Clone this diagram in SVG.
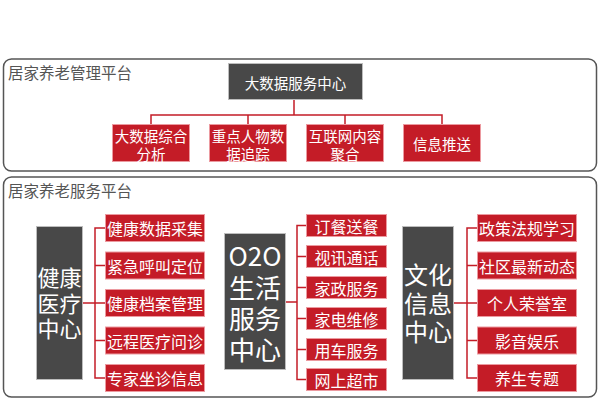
<svg xmlns="http://www.w3.org/2000/svg" width="600" height="400" viewBox="0 0 600 400">
<style>
text{font-family:"Noto Sans CJK SC","Noto Sans",sans-serif}
.frame{fill:#fff;stroke:#555;stroke-width:1.5}
.title{fill:#555;font-size:15.5px}
.dark{fill:#484848;stroke:#bdbdbd;stroke-width:1}
.red{fill:#c41c27;stroke:#ec9aa0;stroke-width:1}
.wt{fill:#fff;text-anchor:middle;dominant-baseline:central}
.s14{font-size:14.5px}
.s16{font-size:16px}
.conn{fill:none;stroke:#c41c27;stroke-width:1.5}
</style>
<rect width="600" height="400" fill="#fff"/>
<g id="platform-mgmt">
<rect class="frame" x="3.5" y="59" width="593" height="112" rx="8"/>
<text class="title" x="8" y="79">居家养老管理平台</text>
</g>
<g id="platform-service">
<rect class="frame" x="3.5" y="177" width="593" height="220" rx="8"/>
<text class="title" x="8" y="197">居家养老服务平台</text>
</g>
<g id="connectors">
<path class="conn" d="M294 100V115M151 124V115H442V124M248 115V124M345 115V124"/>
<path class="conn" d="M83 303H95M105 228H95V378H105M95 265.5H105M95 303H105M95 340.5H105"/>
<path class="conn" d="M286 302H297M306 225.5H297V379.5H306M297 256.5H306M297 287.5H306M297 318.5H306M297 349.5H306"/>
<path class="conn" d="M454 303H467M477 228H467V378H477M467 265.5H477M467 303H477M467 340.5H477"/>
</g>
<g id="bigdata-center">
<rect class="dark" x="228.5" y="63.5" width="134" height="36"/>
<text class="wt s14" x="295.5" y="82">大数据服务中心</text>
</g>
<g id="m1"><rect class="red" x="112.5" y="124.5" width="77" height="37"/><text class="wt s14" x="151"><tspan x="151" y="134.5">大数据综合</tspan><tspan x="151" y="152.5">分析</tspan></text></g>
<g id="m2"><rect class="red" x="209.5" y="124.5" width="77" height="37"/><text class="wt s14" x="248"><tspan x="248" y="134.5">重点人物数</tspan><tspan x="248" y="152.5">据追踪</tspan></text></g>
<g id="m3"><rect class="red" x="306.5" y="124.5" width="77" height="37"/><text class="wt s14" x="345"><tspan x="345" y="134.5">互联网内容</tspan><tspan x="345" y="152.5">聚合</tspan></text></g>
<g id="m4"><rect class="red" x="403.5" y="124.5" width="77" height="37"/><text class="wt s14" x="442" y="143">信息推送</text></g>

<g id="health-center">
<rect class="dark" x="36.5" y="226.5" width="46" height="153"/>
<text class="wt" font-size="22" x="59.5"><tspan x="59.5" y="276">健康</tspan><tspan x="59.5" y="301.5">医疗</tspan><tspan x="59.5" y="327">中心</tspan></text>
</g>
<g id="h1"><rect class="red" x="105.5" y="214.5" width="99" height="27"/><text class="wt s16" x="155" y="228">健康数据采集</text></g>
<g id="h2"><rect class="red" x="105.5" y="252" width="99" height="27"/><text class="wt s16" x="155" y="265.5">紧急呼叫定位</text></g>
<g id="h3"><rect class="red" x="105.5" y="289.5" width="99" height="27"/><text class="wt s16" x="155" y="303">健康档案管理</text></g>
<g id="h4"><rect class="red" x="105.5" y="327" width="99" height="27"/><text class="wt s16" x="155" y="340.5">远程医疗问诊</text></g>
<g id="h5"><rect class="red" x="105.5" y="364.5" width="99" height="27"/><text class="wt s16" x="155" y="378">专家坐诊信息</text></g>

<g id="o2o-center">
<rect class="dark" x="224.5" y="233.5" width="61" height="136"/>
<text class="wt" font-size="26" x="255"><tspan x="255" y="254">O2O</tspan><tspan x="255" y="286">生活</tspan><tspan x="255" y="317">服务</tspan><tspan x="255" y="348">中心</tspan></text>
</g>
<g id="o1"><rect class="red" x="306.5" y="214.5" width="80" height="22"/><text class="wt s16" x="346.5" y="225.5">订餐送餐</text></g>
<g id="o2"><rect class="red" x="306.5" y="245.5" width="80" height="22"/><text class="wt s16" x="346.5" y="256.5">视讯通话</text></g>
<g id="o3"><rect class="red" x="306.5" y="276.5" width="80" height="22"/><text class="wt s16" x="346.5" y="287.5">家政服务</text></g>
<g id="o4"><rect class="red" x="306.5" y="307.5" width="80" height="22"/><text class="wt s16" x="346.5" y="318.5">家电维修</text></g>
<g id="o5"><rect class="red" x="306.5" y="338.5" width="80" height="22"/><text class="wt s16" x="346.5" y="349.5">用车服务</text></g>
<g id="o6"><rect class="red" x="306.5" y="368.5" width="80" height="22"/><text class="wt s16" x="346.5" y="379.5">网上超市</text></g>

<g id="culture-center">
<rect class="dark" x="402.5" y="226.5" width="51" height="153"/>
<text class="wt" font-size="24" x="428"><tspan x="428" y="273">文化</tspan><tspan x="428" y="301.5">信息</tspan><tspan x="428" y="330">中心</tspan></text>
</g>
<g id="c1"><rect class="red" x="477.5" y="214.5" width="99" height="27"/><text class="wt s16" x="527" y="228">政策法规学习</text></g>
<g id="c2"><rect class="red" x="477.5" y="252" width="99" height="27"/><text class="wt s16" x="527" y="265.5">社区最新动态</text></g>
<g id="c3"><rect class="red" x="477.5" y="289.5" width="99" height="27"/><text class="wt s16" x="527" y="303">个人荣誉室</text></g>
<g id="c4"><rect class="red" x="477.5" y="327" width="99" height="27"/><text class="wt s16" x="527" y="340.5">影音娱乐</text></g>
<g id="c5"><rect class="red" x="477.5" y="364.5" width="99" height="27"/><text class="wt s16" x="527" y="378">养生专题</text></g>
</svg>
